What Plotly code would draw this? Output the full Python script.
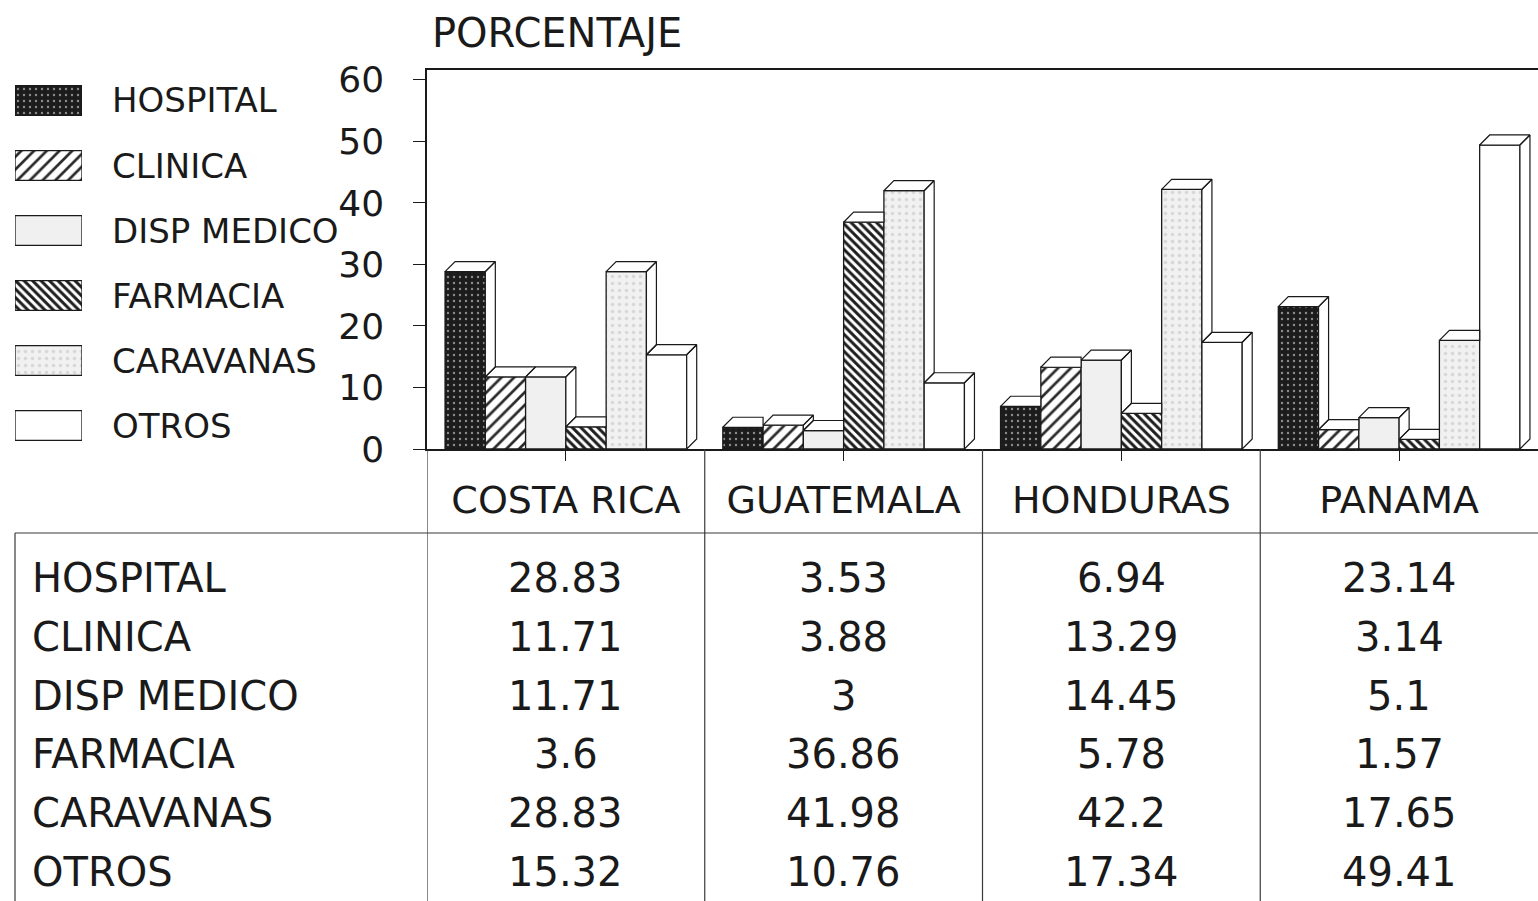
import plotly.graph_objects as go

# data
countries = ["COSTA RICA", "GUATEMALA", "HONDURAS", "PANAMA"]
series = ["HOSPITAL", "CLINICA", "DISP MEDICO", "FARMACIA", "CARAVANAS", "OTROS"]

hospital = [28.83, 3.53, 6.94, 23.14]
clinica = [11.71, 3.88, 13.29, 3.14]
disp_medico = [11.71, 3, 14.45, 5.1]
farmacia = [3.6, 36.86, 5.78, 1.57]
caravanas = [28.83, 41.98, 42.2, 17.65]
otros = [15.32, 10.76, 17.34, 49.41]

values = [hospital, clinica, disp_medico, farmacia, caravanas, otros]
y_ticks = [0, 10, 20, 30, 40, 50, 60]

# fill style for each series (scanned b/w look)
styles = [
    dict(color="#1c1c1c", pattern=dict(shape=".", fillmode="replace", bgcolor="#1c1c1c", fgcolor="#8c8c8c", size=6, solidity=0.12)),
    dict(color="white", pattern=dict(shape="/", fillmode="replace", bgcolor="white", fgcolor="#2a2a2a", size=9, solidity=0.3)),
    dict(color="#f0f0f0"),
    dict(color="white", pattern=dict(shape="\\", fillmode="replace", bgcolor="white", fgcolor="#1e1e1e", size=6, solidity=0.5)),
    dict(color="#ededed", pattern=dict(shape=".", fillmode="replace", bgcolor="#f1f1f1", fgcolor="#d8d8d8", size=7, solidity=0.2)),
    dict(color="white"),
]

W, H = 1538, 901
FONT = "DejaVu Sans"
INK = "#1a1a1a"


def px(x):
    return x / W


def py(y):
    return (H - y) / H


BARGAP = 0.13
SLOT = (1 - BARGAP) / len(series)
DX = 10 / 277.75      # depth of the 3d boxes in category units
DY = 1.63             # depth in value units
Y_TOP = 61.6

fig = go.Figure()

xs = list(range(len(countries)))
for i, (name, vals) in enumerate(zip(series, values)):
    off = -(1 - BARGAP) / 2 + i * SLOT
    fig.add_trace(go.Bar(
        x=xs, y=vals, name=name, offset=off, width=SLOT,
        marker=dict(line=dict(color=INK, width=1.3), **styles[i]),
        showlegend=False, hoverinfo="skip",
    ))

# top and side faces of the 3d boxes
fx, fy = [], []
for i, vals in enumerate(values):
    off = -(1 - BARGAP) / 2 + i * SLOT
    for j, v in enumerate(vals):
        x0 = j + off
        x1 = x0 + SLOT
        nxt = values[i + 1][j] if i + 1 < len(values) else 0
        right = x1 if nxt > v else x1 + DX
        fx += [x0, x0 + DX, right, x1, x0, None]
        fy += [v, v + DY, v + DY, v, v, None]
        if nxt < v:
            fx += [x1, x1 + DX, x1 + DX, x1, x1, None]
            fy += [nxt, nxt + DY, v + DY, v, nxt, None]
fig.add_trace(go.Scatter(
    x=fx, y=fy, mode="lines", fill="toself", fillcolor="white",
    line=dict(color=INK, width=1.2), showlegend=False, hoverinfo="skip",
))

# legend key drawn as boxes on its own small axis
for i, name in enumerate(series):
    fig.add_trace(go.Bar(
        x=[1], y=[name], orientation="h", base=0, width=0.46,
        xaxis="x2", yaxis="y2",
        marker=dict(line=dict(color=INK, width=1.3), **styles[i]),
        showlegend=False, hoverinfo="skip",
    ))
    fig.add_annotation(x=px(110), xref="paper", y=name, yref="y2",
                       text=name, showarrow=False, xanchor="left", yanchor="middle",
                       font=dict(size=34, color=INK))

ann = []
ann.append(dict(x=px(430), y=py(33), xref="paper", yref="paper", text="PORCENTAJE",
                showarrow=False, xanchor="left", yanchor="middle", font=dict(size=40, color=INK)))

# data table under the chart
ROW0, ROWSTEP = 578, 58.8
for i, (name, vals) in enumerate(zip(series, values)):
    yy = py(ROW0 + i * ROWSTEP)
    ann.append(dict(x=px(30), y=yy, xref="paper", yref="paper", text=name, showarrow=False,
                    xanchor="left", yanchor="middle", font=dict(size=40, color=INK)))
    for j, v in enumerate(vals):
        ann.append(dict(x=j, y=yy, xref="x", yref="paper", text=f"{v:g}", showarrow=False,
                        xanchor="center", yanchor="middle", font=dict(size=40, color=INK)))
for a in ann:
    fig.add_annotation(**a)

line = dict(color="#3a3a3a", width=1.2)
for j in range(len(countries)):
    fig.add_shape(type="line", xref="x", yref="paper", x0=j - 0.5, x1=j - 0.5,
                  y0=0, y1=py(449), line=line)
fig.add_shape(type="line", xref="paper", yref="paper", x0=px(15), x1=1,
              y0=py(533), y1=py(533), line=line)
fig.add_shape(type="line", xref="paper", yref="paper", x0=px(15), x1=px(15),
              y0=0, y1=py(533), line=line)

fig.update_layout(
    width=W, height=H,
    margin=dict(l=0, r=0, t=0, b=0, autoexpand=False),
    paper_bgcolor="white", plot_bgcolor="white",
    barmode="overlay",
    font=dict(family=FONT, color=INK),
    xaxis=dict(
        domain=[px(427), 1], range=[-0.5, 3.5], automargin=False,
        tickvals=xs, ticktext=countries, ticks="outside", ticklen=10,
        tickcolor=INK, ticklabelstandoff=7, tickfont=dict(size=38, color=INK),
        showline=True, linecolor=INK, linewidth=1.5, mirror=True,
        showgrid=False, zeroline=False, fixedrange=True,
    ),
    yaxis=dict(
        domain=[py(449), py(70)], range=[0, Y_TOP], automargin=False,
        tickvals=y_ticks, ticks="outside", ticklen=12, tickcolor=INK,
        ticklabelstandoff=22, tickfont=dict(size=36, color=INK),
        showline=True, linecolor=INK, linewidth=1.5,
        showgrid=False, zeroline=False, fixedrange=True,
    ),
    xaxis2=dict(domain=[px(15), px(82)], range=[0, 1], anchor="y2", visible=False,
                automargin=False),
    yaxis2=dict(domain=[py(458), py(68)], anchor="x2", type="category",
                categoryorder="array", categoryarray=series[::-1],
                range=[-0.5, 5.5], visible=False, automargin=False),
)

pin = ("document.body.style.margin='0';document.body.style.overflow='hidden';"
       "var gd=document.getElementById('{plot_id}');"
       "gd.style.position='fixed';gd.style.top='0';gd.style.left='0';")
fig.write_html("out.html", config={"displayModeBar": False}, post_script=pin)
